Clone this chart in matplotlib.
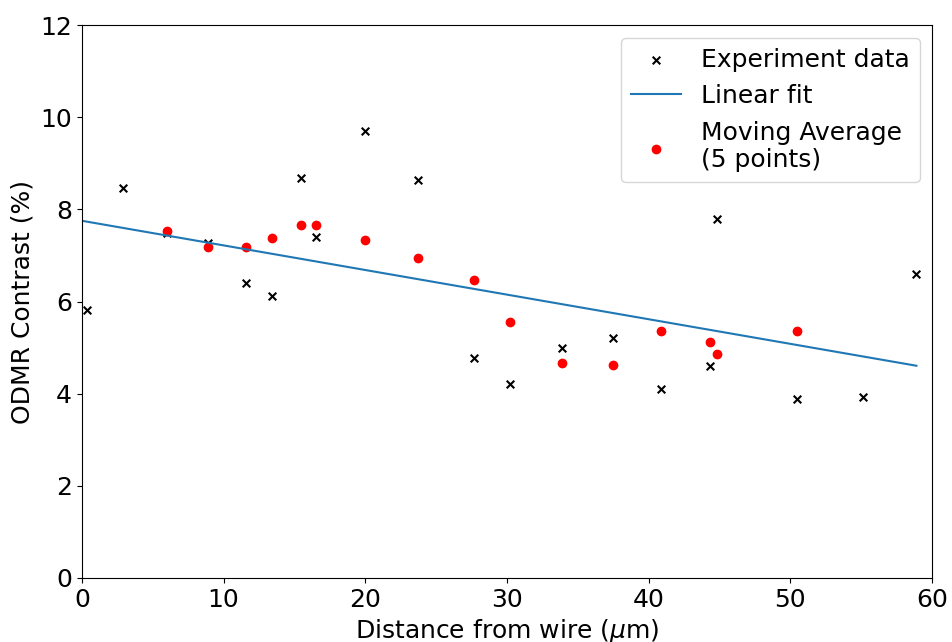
import numpy as np
import matplotlib
matplotlib.use("Agg")
import matplotlib.pyplot as plt

# Experiment data (distance in um, contrast in %)
dist = [0.35, 2.9, 6.0, 8.9, 11.6, 13.4, 15.5, 16.5, 20.0, 23.7,
        27.7, 30.2, 33.9, 37.5, 40.9, 44.3, 44.8, 50.5, 55.1, 58.9]
contrast = [5.82, 8.46, 7.49, 7.27, 6.40, 6.12, 8.68, 7.40, 9.70, 8.64,
            4.77, 4.21, 4.99, 5.21, 4.10, 4.60, 7.79, 3.88, 3.93, 6.60]

# Moving average points (5 points)
ma_dist = [6.0, 8.9, 11.6, 13.4, 15.5, 16.5, 20.0, 23.7,
           27.7, 30.2, 33.9, 37.5, 40.9, 44.3, 44.8, 50.5]
ma_contrast = [7.53, 7.18, 7.18, 7.38, 7.66, 7.66, 7.33, 6.94,
               6.47, 5.56, 4.67, 4.62, 5.36, 5.12, 4.86, 5.36]

x = np.array(dist)
y = np.array(contrast)
slope, intercept = np.polyfit(x, y, 1)
xfit = np.array([0, x.max()])

plt.rcParams['font.size'] = 18
fig = plt.figure(figsize=(9.52, 6.42), dpi=100)
ax = fig.add_axes([0.086, 0.0997, 0.893, 0.8613])

ax.scatter(x, y, marker='x', color='black', s=30, label='Experiment data')
ax.plot(xfit, slope * xfit + intercept, label='Linear fit')
ax.scatter(ma_dist, ma_contrast, color='red', s=36, label='Moving Average\n(5 points)')

ax.set_xlim(0, 60)
ax.set_ylim(0, 12)
ax.set_xlabel(r'Distance from wire ($\mu$m)')
ax.set_ylabel('ODMR Contrast (%)')
ax.legend(loc='upper right')

fig.savefig('out.png')
